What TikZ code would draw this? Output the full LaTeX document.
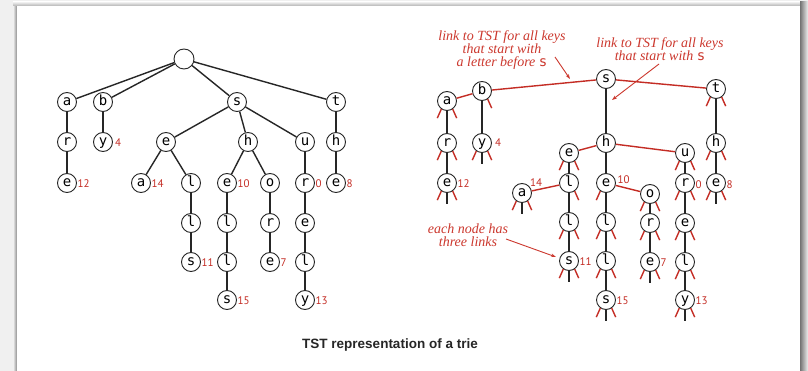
\documentclass[tikz,border=0pt]{standalone}
\usepackage{fontspec}
\newfontfamily\keyfont{DejaVu Sans Mono}
\newfontfamily\numfont{PT Sans}
\newfontfamily\annfont{Liberation Serif}
\newfontfamily\capfont{Liberation Sans}
\usetikzlibrary{arrows.meta}
\definecolor{bookred}{RGB}{196,44,36}
\definecolor{annred}{RGB}{204,56,46}
\definecolor{bg}{RGB}{240,240,240}
\newcommand\stubL[1]{\draw[rlink] (#1.235) -- ++(-4,9);}
\newcommand\stubR[1]{\draw[rlink] (#1.305) -- ++(4,9);}
\newcommand\stubM[1]{\draw[edge] (#1.south) -- ++(0,11);}
\begin{document}
\begin{tikzpicture}[x=1pt,y=-1pt,
  nd/.style={circle, draw=black!85, line width=0.9pt, fill=white, minimum size=19pt, inner sep=0pt,
    text height=7.5pt, text depth=0pt, font=\keyfont\fontsize{14}{14}\selectfont},
  rootnd/.style={nd, minimum size=20pt},
  edge/.style={line width=1.4pt, black!85},
  rlink/.style={line width=1.4pt, bookred},
  num/.style={font=\numfont\fontsize{11}{11}\selectfont, text=bookred, inner sep=0pt, anchor=west},
  ann/.style={font=\annfont\itshape\fontsize{14}{13}\selectfont, text=annred, align=center, inner sep=0pt},
  arr/.style={line width=0.9pt, annred, -{Stealth[length=5pt,width=3.5pt]}}]
% background and panel
\fill[bg] (0,0) rectangle (808,371);
\shade[left color=bg, right color=black!45] (13,6) rectangle (17,371);
\shade[top color=bg, bottom color=black!30] (13,2) rectangle (800,6);
\shade[left color=black!55, right color=bg] (800,2) rectangle (808,371);
\fill[white] (17,6) rectangle (800,371);
\useasboundingbox (0,0) rectangle (808,371);

% ---------------- left: trie ----------------
\node[rootnd] (R) at (184,59) {};
\node[nd] (a1) at (67,102) {a};
\node[nd] (b1) at (103,102) {b};
\node[nd] (s1) at (237,102) {s};
\node[nd] (t1) at (336,102) {t};
\node[nd] (r1) at (67,142) {r};
\node[nd] (y1) at (103,142) {y};
\node[nd] (e1) at (166,142) {e};
\node[nd] (h1) at (248,142) {h};
\node[nd] (u1) at (305,142) {u};
\node[nd] (h2) at (336,142) {h};
\node[nd] (e2) at (67,183) {e};
\node[nd] (a2) at (141,183) {a};
\node[nd] (l1) at (191,183) {l};
\node[nd] (e3) at (227,183) {e};
\node[nd] (o1) at (270,183) {o};
\node[nd] (r2) at (305,183) {r};
\node[nd] (e4) at (336,183) {e};
\node[nd] (l2) at (191,223) {l};
\node[nd] (l3) at (227,223) {l};
\node[nd] (r3) at (270,223) {r};
\node[nd] (e5) at (305,223) {e};
\node[nd] (s2) at (191,262) {s};
\node[nd] (l4) at (227,262) {l};
\node[nd] (e6) at (270,262) {e};
\node[nd] (l5) at (305,262) {l};
\node[nd] (s3) at (227,300) {s};
\node[nd] (y2) at (305,300) {y};
\foreach \p/\c in {R/a1,R/b1,R/s1,R/t1,a1/r1,r1/e2,b1/y1,s1/e1,s1/h1,s1/u1,e1/a2,e1/l1,l1/l2,l2/s2,
  h1/e3,h1/o1,e3/l3,l3/l4,l4/s3,o1/r3,r3/e6,u1/r2,r2/e5,e5/l5,l5/y2,t1/h2,h2/e4}
  \draw[edge] (\p) -- (\c);
\node[num] (n1) at (115,143) {4};
\node[num] (n2) at (77.5,184) {12};
\node[num] (n3) at (151.5,184) {14};
\node[num] (n4) at (237.5,184) {10};
\node[num] (n5) at (315.5,184) {0};
\node[num] (n6) at (346.5,184) {8};
\node[num] (n7) at (201.5,263) {11};
\node[num] (n8) at (280.5,263) {7};
\node[num] (n9) at (237.5,301) {15};
\node[num] (n10) at (315.5,301) {13};

% ---------------- right: TST ----------------
\node[nd] (Ts) at (606,79) {s};
\node[nd] (Tb) at (482,91) {b};
\node[nd] (Ta) at (447,101) {a};
\node[nd] (Tt) at (716,89) {t};
\node[nd] (Tr) at (447,143) {r};
\node[nd] (Ty) at (482,143) {y};
\node[nd] (Th) at (606,143) {h};
\node[nd] (Th2) at (716,143) {h};
\node[nd] (Te2) at (569,153) {e};
\node[nd] (Tu) at (685,153) {u};
\node[nd] (Te) at (447,183) {e};
\node[nd] (Tl) at (569,183) {l};
\node[nd] (Te3) at (606,183) {e};
\node[nd] (Tr2) at (685,183) {r};
\node[nd] (Te4) at (716,183) {e};
\node[nd] (Ta2) at (522,193) {a};
\node[nd] (To) at (650,194) {o};
\node[nd] (Tl2) at (569,222) {l};
\node[nd] (Tl3) at (606,222) {l};
\node[nd] (Tr3) at (650,223) {r};
\node[nd] (Te5) at (685,223) {e};
\node[nd] (Ts2) at (569,261) {s};
\node[nd] (Tl4) at (606,261) {l};
\node[nd] (Te6) at (650,262) {e};
\node[nd] (Tl5) at (685,262) {l};
\node[nd] (Ts3) at (606,300) {s};
\node[nd] (Ty2) at (685,300) {y};
\foreach \p/\c in {Ts/Tb,Tb/Ta,Ts/Tt,Th/Te2,Th/Tu,Tl/Ta2,Te3/To}
  \draw[rlink] (\p) -- (\c);
\foreach \p/\c in {Ts/Th,Th/Te3,Te3/Tl3,Tl3/Tl4,Tl4/Ts3,Tb/Ty,Ta/Tr,Tr/Te,Tt/Th2,Th2/Te4,
  Te2/Tl,Tl/Tl2,Tl2/Ts2,To/Tr3,Tr3/Te6,Tu/Tr2,Tr2/Te5,Te5/Tl5,Tl5/Ty2}
  \draw[edge] (\p) -- (\c);
\foreach \n in {Ta,Tr,Te,Ty,Te2,Ta2,Tl2,Ts2,Tl3,Tl4,Ts3,To,Tr3,Te6,Tu,Tr2,Te5,Tl5,Ty2,Tt,Th2,Te4,Te3}
  {\stubL{\n}}
\foreach \n in {Ta,Tr,Te,Ty,Te2,Ta2,Tl2,Ts2,Tl3,Tl4,Ts3,To,Tr3,Te6,Tu,Tr2,Te5,Tl5,Ty2,Tt,Th2,Te4,Tb,Tl}
  {\stubR{\n}}
\foreach \n in {Te,Ty,Ta2,Ts2,Ts3,Te6,Ty2,Te4}
  {\stubM{\n}}
\node[num] (m1) at (495,143) {4};
\node[num] (m2) at (457.5,184) {12};
\node[num, anchor=south west] (m3) at (530,187) {14};
\node[num] (m4) at (617.5,180) {10};
\node[num] (m5) at (695.5,185) {0};
\node[num] (m6) at (726.5,185) {8};
\node[num] (m7) at (579.5,262) {11};
\node[num] (m8) at (660.5,263) {7};
\node[num] (m9) at (616.5,301) {15};
\node[num] (m10) at (695.5,301) {13};

% annotations
\node[ann] (A1) at (502,50) {link to TST for all keys\\that start with\\a letter before {\upshape\keyfont s}};
\coordinate (A1s) at (555,57);
\coordinate (A1t) at (570,79);
\draw[arr] (A1s) -- (A1t);
\node[ann] (A2) at (660,49) {link to TST for all keys\\that start with {\upshape\keyfont s}};
\coordinate (A2s) at (659,64);
\coordinate (A2t) at (612,100);
\draw[arr] (A2s) -- (A2t);
\node[ann] (A3) at (468,235) {each node has\\three links};
\coordinate (A3s) at (506,239);
\coordinate (A3t) at (556,257);
\draw[arr] (A3s) -- (A3t);

% caption
\node[font=\capfont\bfseries\fontsize{13.5}{13.5}\selectfont, text=black!85] (cap) at (390,345) {TST representation of a trie};
\end{tikzpicture}
\end{document}
